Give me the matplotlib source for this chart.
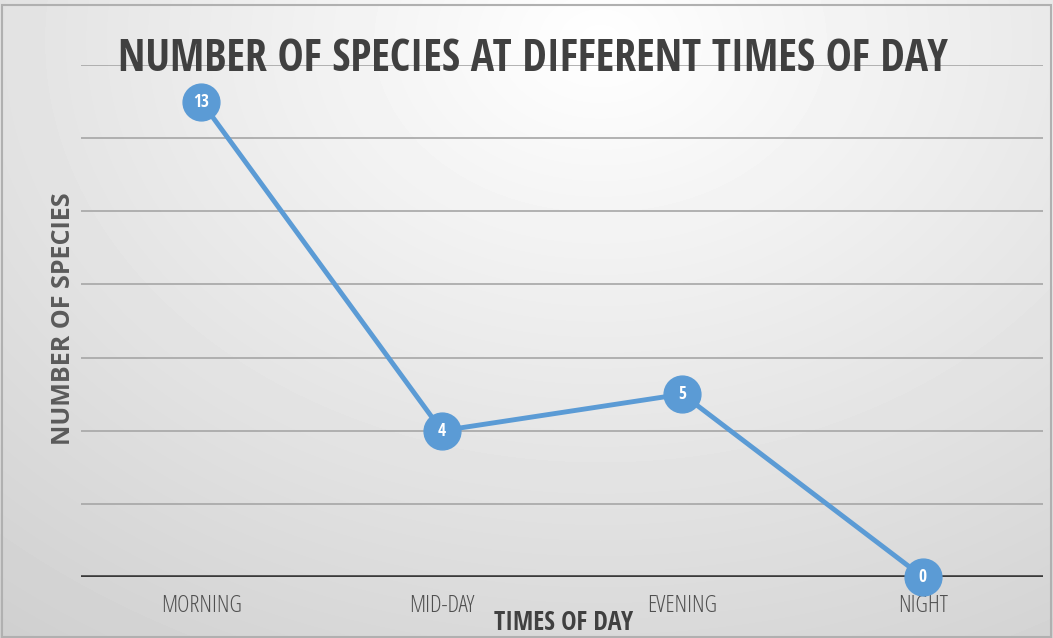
import numpy as np
import matplotlib.pyplot as plt
from matplotlib.font_manager import FontProperties

# species counts per time of day
times = ['MORNING', 'MID-DAY', 'EVENING', 'NIGHT']
species = [13, 4, 5, 0]
grid_levels = [2, 4, 6, 8, 10, 12, 14]

title_font = FontProperties(family='Open Sans Condensed', weight='bold', size=31.5)
xlab_font = FontProperties(family='Open Sans Condensed', weight='bold', size=18.5)
tick_font = FontProperties(family='Open Sans', stretch='condensed', weight='light', size=17)
val_font = FontProperties(family='Open Sans Condensed', weight='bold', size=12.5)
ylab_font = FontProperties(family='Open Sans', weight='bold', size=18)

fig = plt.figure(figsize=(10.53, 6.38), dpi=100)

# soft radial background
bg = fig.add_axes([0, 0, 1, 1], zorder=0)
yy, xx = np.mgrid[0:638, 0:1053]
r = np.sqrt(((xx - 600) / 1053.0) ** 2 + ((yy - 40) / 800.0) ** 2)
shade = np.clip(1.0 - 0.2 * r, 0.80, 1.0)
bg.imshow(shade, cmap='gray', vmin=0, vmax=1, aspect='auto', extent=[0, 1, 0, 1])
bg.set_xlim(0, 1)
bg.set_ylim(0, 1)
bg.axis('off')
bg.add_patch(plt.Rectangle((0.002, 0.002), 0.996, 0.99, fill=False,
                           edgecolor='#b0b0b0', lw=1.5))

ax = fig.add_axes([0.077, 0.0956, 0.9136, 0.8025], zorder=1)
ax.patch.set_alpha(0)
x = np.arange(len(times))

for g in grid_levels:
    ax.axhline(g, color='#a6a6a6', lw=1.2, zorder=1)
ax.axhline(0, color='#3a3a3a', lw=2.6, zorder=2)

ax.plot(x, species, color='#5b9bd5', lw=3.5, zorder=3, clip_on=False,
        marker='o', markersize=26.5, markerfacecolor='#5b9bd5',
        markeredgecolor='#5b9bd5')
for xi, v in zip(x, species):
    ax.text(xi, v, str(v), color='white', ha='center', va='center',
            fontproperties=val_font, zorder=4)

ax.set_xlim(-0.5, 3.5)
ax.set_ylim(0, 14)
ax.set_xticks(x)
ax.set_xticklabels(times, color='#505050', fontproperties=tick_font)
ax.tick_params(axis='x', length=0, pad=12)
ax.set_yticks([])
for s in ax.spines.values():
    s.set_visible(False)

fig.text(0.506, 0.906, 'NUMBER OF SPECIES AT DIFFERENT TIMES OF DAY',
         ha='center', va='center', color='#404040', fontproperties=title_font)
fig.text(0.060, 0.50, 'NUMBER OF SPECIES', rotation=90, ha='center',
         va='center', color='#5a5a5a', fontproperties=ylab_font)
fig.text(0.535, 0.024, 'TIMES OF DAY', ha='center', va='center',
         color='#404040', fontproperties=xlab_font)

fig.savefig('out.png', dpi=100)
